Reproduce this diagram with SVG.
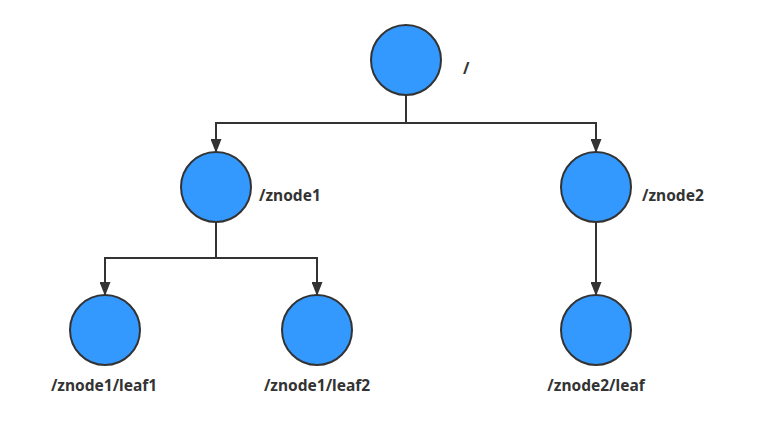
<svg xmlns="http://www.w3.org/2000/svg" width="778" height="430" viewBox="0 0 778 430">
<style>
.node circle{fill:#3399ff;stroke:#333333;stroke-width:2}
.lbl{font-family:"Noto Sans","Open Sans","Liberation Sans",sans-serif;font-weight:bold;font-size:15.5px;fill:#333333}
.conn path{fill:none;stroke:#333333;stroke-width:2}
</style>
<defs>
<marker id="arr" viewBox="0 0 14 11" refX="13" refY="5.5" markerWidth="14" markerHeight="11" orient="auto" markerUnits="userSpaceOnUse">
<path d="M0,0 L14,5.5 L0,11 Z" fill="#333333"/>
</marker>
</defs>
<rect width="778" height="430" fill="#ffffff"/>
<g id="connectors" class="conn">
<path d="M406,95 V123 H216 V152" marker-end="url(#arr)"/>
<path d="M406,123 H596 V152" marker-end="url(#arr)"/>
<path d="M216,222 V258 H105 V295" marker-end="url(#arr)"/>
<path d="M216,258 H317 V295" marker-end="url(#arr)"/>
<path d="M596,222 V295" marker-end="url(#arr)"/>
</g>
<g id="root" class="node"><circle cx="406" cy="60" r="35"/><text class="lbl" x="463" y="74">/</text></g>
<g id="znode1" class="node"><circle cx="216" cy="187" r="35"/><text class="lbl" x="259" y="201">/znode1</text></g>
<g id="znode2" class="node"><circle cx="596" cy="187" r="35"/><text class="lbl" x="642" y="201">/znode2</text></g>
<g id="leaf1" class="node"><circle cx="105" cy="330" r="35"/><text class="lbl" x="104" y="391" text-anchor="middle">/znode1/leaf1</text></g>
<g id="leaf2" class="node"><circle cx="317" cy="330" r="35"/><text class="lbl" x="317" y="391" text-anchor="middle">/znode1/leaf2</text></g>
<g id="leaf3" class="node"><circle cx="596" cy="330" r="35"/><text class="lbl" x="596" y="391" text-anchor="middle">/znode2/leaf</text></g>
</svg>
